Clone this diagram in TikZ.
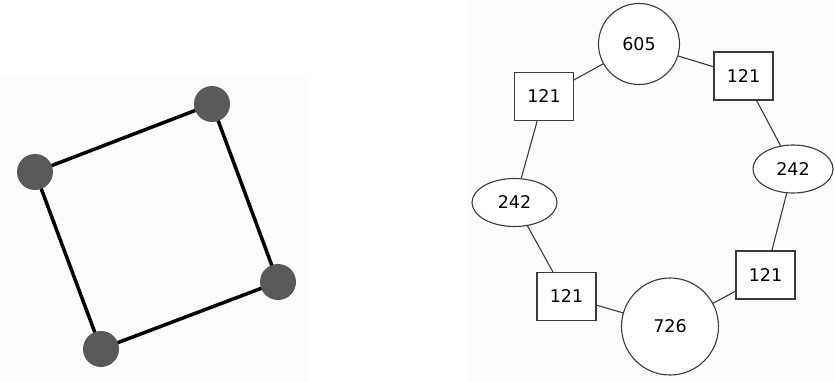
\documentclass[tikz,border=0pt]{standalone}
\usepackage{fontspec}
\setmainfont{DejaVu Sans}
\usetikzlibrary{shapes.geometric}
\definecolor{panelbg}{HTML}{FBFDFB}
\definecolor{dotgray}{HTML}{5A585B}
\definecolor{edgegray}{HTML}{3A3A3A}
\tikzset{
  dot/.style={circle, fill=dotgray, minimum size=36pt, inner sep=0pt},
  thick edge/.style={line width=3.5pt, black},
  box/.style={rectangle, draw=edgegray, line width=1.1pt, fill=white, minimum width=59pt, minimum height=48pt, inner sep=0pt, font=\fontsize{17.5}{20}\selectfont},
  bigcircle/.style={circle, draw=edgegray, line width=1.1pt, fill=white, inner sep=0pt, font=\fontsize{17.5}{20}\selectfont},
  oval/.style={ellipse, draw=edgegray, line width=1.1pt, fill=white, minimum width=82pt, minimum height=48pt, inner sep=0pt, font=\fontsize{17.5}{20}\selectfont},
  thin edge/.style={line width=1.1pt, edgegray}
}
\begin{document}
\begin{tikzpicture}[x=1pt, y=-1pt]
\useasboundingbox (0,0) rectangle (835,382);
\fill[panelbg] (0,76) rectangle (308,382);
\fill[panelbg] (467,0) rectangle (835,382);
% left panel
\coordinate (a) at (35,172);
\coordinate (b) at (212,104);
\coordinate (c) at (278,282);
\coordinate (d) at (101,349);
\draw[thick edge] (a) -- (b) -- (c) -- (d) -- cycle;
\node[dot] (na) at (a) {};
\node[dot] (nb) at (b) {};
\node[dot] (nc) at (c) {};
\node[dot] (nd) at (d) {};
% right panel
\node[bigcircle, minimum size=81pt] (t) at (639,44) {605};
\node[box] (tl) at (544,96.5) {121};
\node[box] (tr) at (743.5,76) {121};
\node[oval, minimum width=80pt] (er) at (793,169) {242};
\node[oval, minimum width=85pt] (el) at (514.5,202.5) {242};
\node[box] (bl) at (566.5,296.5) {121};
\node[bigcircle, minimum size=97pt] (bm) at (670,326.5) {726};
\node[box] (br) at (765.5,275) {121};
\draw[thin edge] (t) -- (tl);
\draw[thin edge] (t) -- (tr);
\draw[thin edge] (tr) -- (er);
\draw[thin edge] (er) -- (br);
\draw[thin edge] (br) -- (bm);
\draw[thin edge] (bm) -- (bl);
\draw[thin edge] (bl) -- (el);
\draw[thin edge] (el) -- (tl);
\end{tikzpicture}
\end{document}
